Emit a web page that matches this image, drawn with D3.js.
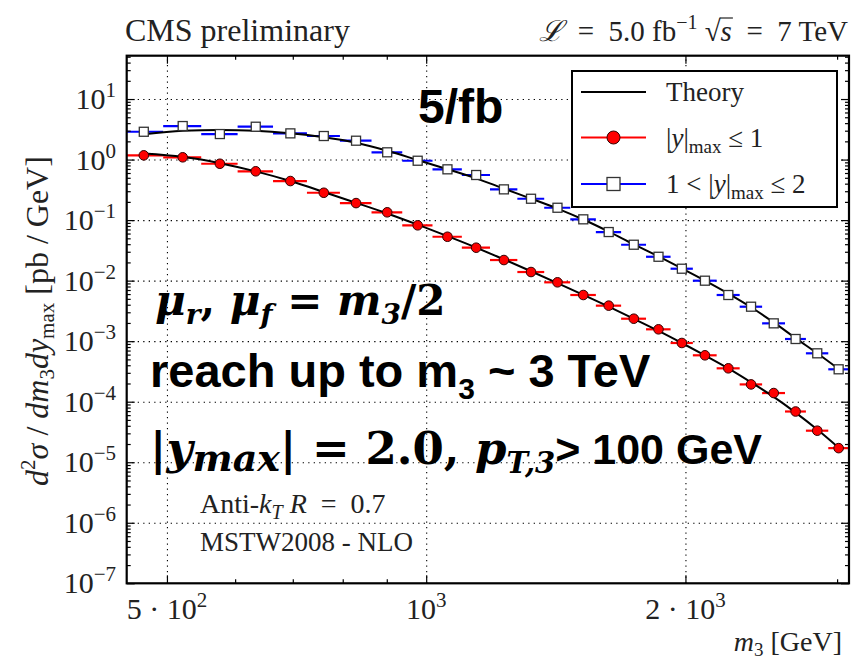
<!DOCTYPE html>
<html><head><meta charset="utf-8">
<script src="https://cdn.jsdelivr.net/npm/d3@7"></script>
<style>body{margin:0;background:#fff}</style>
</head><body><svg id="c" width="855" height="662"></svg>
<script>
// ---- data ----
const binEdges = [445, 495, 548, 604, 664, 727, 794, 864, 938, 1017, 1100, 1186, 1276, 1371, 1470, 1574, 1684, 1800, 1922, 2040, 2174, 2312, 2455, 2610, 2760, 2930, 3095];
const dataCentral = [1.175, 1.09, 0.853, 0.64, 0.442, 0.283, 0.191, 0.1345, 0.082, 0.0531, 0.035, 0.0219, 0.01388, 0.00938, 0.00579, 0.00386, 0.00235, 0.00157, 9.33e-4, 5.84e-4, 3.56e-4, 1.93e-4, 1.39e-4, 6.89e-5, 3.32e-5, 1.71e-5];
const dataForward = [2.88, 3.58, 2.64, 3.49, 2.71, 2.45, 2.05, 1.318, 0.957, 0.69, 0.556, 0.322, 0.2254, 0.16, 0.103, 0.0635, 0.0392, 0.0248, 0.01574, 0.00998, 0.00579, 0.00371, 0.00197, 0.001086, 6.3e-4, 3.43e-4];
const theoryCentral = [1.259, 1.109, 0.871, 0.638, 0.4416, 0.2917, 0.1928, 0.1288, 0.0841, 0.0543, 0.0351, 0.0224, 0.01429, 0.00912, 0.00582, 0.00372, 0.002344, 0.001479, 9.33e-4, 5.82e-4, 3.55e-4, 2.09e-4, 1.202e-4, 6.61e-5, 3.47e-5, 1.74e-5];
const theoryForward = [2.61, 2.99, 3.08, 2.99, 2.71, 2.33, 1.897, 1.40, 0.982, 0.692, 0.49, 0.331, 0.2265, 0.1549, 0.1023, 0.0646, 0.0398, 0.0251, 0.01585, 0.01, 0.0061, 0.00363, 0.00204, 0.001122, 6.31e-4, 3.47e-4];
const xMajorTicks = [500, 1000, 2000];
const xMajorLabels = [["5 · 10", "2"], ["10", "3"], ["2 · 10", "3"]];
const xMinorTicks = [600, 700, 800, 900, 3000];
const yExponents = [1, 0, -1, -2, -3, -4, -5, -6, -7];

// ---- layout ----
const L = 126.7, R = 849, T = 55.7, B = 583.3;
const svg = d3.select('#c');
const serif = "'Liberation Serif', 'Times New Roman', serif";
const mathSerif = "'DejaVu Serif', 'Liberation Serif', serif";
const sans = "'Liberation Sans', Arial, sans-serif";
const E = '\u2002';

const x = d3.scaleLog().domain([449, 3097]).range([L, R]);
const y = d3.scaleLog().domain([Math.pow(10, 1.716), 1e-7]).range([T, B]);

const yMajor = yExponents.map(e => Math.pow(10, e));
const yMinor = [];
for (let e = -7; e <= 1; e++) for (let k = 2; k <= 9; k++) { const v = k * Math.pow(10, e); if (v < y.domain()[0]) yMinor.push(v); }

// grid
const dash = "1.3,4.2";
svg.append('g').attr('transform', `translate(${L},0)`)
  .call(d3.axisLeft(y).tickValues(yMajor.filter(v => v > 1e-7 && v < 50)).tickSize(-(R - L)).tickFormat(''))
  .call(g => g.select('.domain').remove())
  .call(g => g.selectAll('line').attr('stroke', '#000').attr('stroke-width', 1.1).attr('stroke-dasharray', dash));
svg.append('g').attr('transform', `translate(0,${B})`)
  .call(d3.axisBottom(x).tickValues(xMajorTicks).tickSize(-(B - T)).tickFormat(''))
  .call(g => g.select('.domain').remove())
  .call(g => g.selectAll('line').attr('stroke', '#000').attr('stroke-width', 1.1).attr('stroke-dasharray', dash));

// ---- data marks ----
const plot = svg.append('g');
svg.append('clipPath').attr('id', 'clip').append('rect').attr('x', L).attr('y', T).attr('width', R - L).attr('height', B - T);
plot.attr('clip-path', 'url(#clip)');
const centers = d3.range(binEdges.length - 1).map(i => (binEdges[i] + binEdges[i + 1]) / 2);

function bars(vals, color) {
  plot.append('g').selectAll('line').data(vals).join('line')
    .attr('x1', (d, i) => x(binEdges[i])).attr('x2', (d, i) => x(binEdges[i + 1]))
    .attr('y1', d => y(d)).attr('y2', d => y(d))
    .attr('stroke', color).attr('stroke-width', 2.2);
}
bars(dataForward, '#0000ff');
bars(dataCentral, '#ff0000');

const line = d3.line().x((d, i) => x(centers[i])).y(d => y(d)).curve(d3.curveMonotoneX);
plot.append('path').datum(theoryForward).attr('d', line).attr('fill', 'none').attr('stroke', '#000').attr('stroke-width', 2);
plot.append('path').datum(theoryCentral).attr('d', line).attr('fill', 'none').attr('stroke', '#000').attr('stroke-width', 2);

plot.append('g').selectAll('rect').data(dataForward).join('rect')
  .attr('x', (d, i) => x(centers[i]) - 4.5).attr('y', d => y(d) - 4.5)
  .attr('width', 9).attr('height', 9).attr('fill', '#fff').attr('stroke', '#333').attr('stroke-width', 1.3);
plot.append('g').selectAll('circle').data(dataCentral).join('circle')
  .attr('cx', (d, i) => x(centers[i])).attr('cy', d => y(d)).attr('r', 4.8)
  .attr('fill', '#ff0000').attr('stroke', '#300').attr('stroke-width', 1);

// ---- axes (ticks inward) ----
function tickAxis(axis, tr, size) {
  svg.append('g').attr('transform', tr).call(axis.tickSize(size).tickFormat(''))
    .call(g => g.select('.domain').remove())
    .call(g => g.selectAll('line').attr('stroke', '#000').attr('stroke-width', 1.2));
}
tickAxis(d3.axisLeft(y).tickValues(yMajor), `translate(${L},0)`, -8);
tickAxis(d3.axisLeft(y).tickValues(yMinor), `translate(${L},0)`, -4);
tickAxis(d3.axisRight(y).tickValues(yMajor), `translate(${R},0)`, -8);
tickAxis(d3.axisRight(y).tickValues(yMinor), `translate(${R},0)`, -4);
tickAxis(d3.axisBottom(x).tickValues(xMajorTicks), `translate(0,${B})`, -8);
tickAxis(d3.axisBottom(x).tickValues(xMinorTicks), `translate(0,${B})`, -4);
tickAxis(d3.axisTop(x).tickValues(xMajorTicks), `translate(0,${T})`, -8);
tickAxis(d3.axisTop(x).tickValues(xMinorTicks), `translate(0,${T})`, -4);
svg.append('rect').attr('x', L).attr('y', T).attr('width', R - L).attr('height', B - T)
  .attr('fill', 'none').attr('stroke', '#000').attr('stroke-width', 2.2);

// tick labels
const yl = svg.append('g').attr('font-family', serif).attr('font-size', 30).attr('fill', '#222');
yExponents.forEach(e => {
  const t = yl.append('text').attr('x', 116).attr('y', y(Math.pow(10, e)) + 10).attr('text-anchor', 'end');
  t.append('tspan').text('10');
  t.append('tspan').attr('dy', -12).attr('font-size', 21).text(e < 0 ? '−' + (-e) : String(e));
});
const xl = svg.append('g').attr('font-family', serif).attr('font-size', 30).attr('fill', '#222');
xMajorTicks.forEach((v, i) => {
  const t = xl.append('text').attr('x', x(v)).attr('y', 619).attr('text-anchor', 'middle');
  t.append('tspan').text(xMajorLabels[i][0]);
  t.append('tspan').attr('dy', -12).attr('font-size', 21).text(xMajorLabels[i][1]);
});

// axis titles
const xt = svg.append('text').attr('x', 842).attr('y', 651).attr('text-anchor', 'end')
  .attr('font-family', serif).attr('font-size', 28).attr('fill', '#222');
xt.append('tspan').attr('font-style', 'italic').text('m');
xt.append('tspan').attr('font-size', 19).attr('dy', 5).text('3');
xt.append('tspan').attr('dy', -5).text(' [GeV]');

const yt = svg.append('text').attr('transform', 'translate(48,321) rotate(-90)').attr('text-anchor', 'middle')
  .attr('font-family', serif).attr('font-size', 32).attr('fill', '#222');
[['d', 1], ['2', 0, 21, -13], ['σ', 1, null, 13], [' / ', 0], ['dm', 1], ['3', 0, 21, 6], ['dy', 1, null, -6], ['max', 0, 21, 6], [' [pb / GeV]', 0, null, -6]]
  .forEach(p => {
    const s = yt.append('tspan').text(p[0]);
    if (p[1]) s.attr('font-style', 'italic');
    if (p[2]) s.attr('font-size', p[2]);
    if (p[3]) s.attr('dy', p[3]);
  });

// header
svg.append('text').attr('x', 125).attr('y', 41).attr('font-family', serif).attr('font-size', 32).attr('fill', '#222').text('CMS preliminary');
const hdr = svg.append('text').attr('x', 848).attr('y', 41).attr('text-anchor', 'end')
  .attr('font-family', serif).attr('font-size', 29).attr('fill', '#222');
hdr.append('tspan').attr('font-style', 'italic').text('ℒ');
hdr.append('tspan').text(E + '=' + E + '5.0 fb');
hdr.append('tspan').attr('dy', -12).attr('font-size', 20).text('−1');
hdr.append('tspan').attr('dy', 12).text(' √');
hdr.append('tspan').attr('font-style', 'italic').text('s');
hdr.append('tspan').text(E + '=' + E + '7 TeV');
{
  const full = hdr.text();
  const idx = full.indexOf('√') + 1;
  const ext = hdr.node().getExtentOfChar(idx);
  const ext0 = hdr.node().getExtentOfChar(idx - 1);
  svg.append('line').attr('x1', ext0.x + ext0.width - 1).attr('x2', ext.x + ext.width + 1)
    .attr('y1', ext0.y + 3).attr('y2', ext0.y + 3).attr('stroke', '#222').attr('stroke-width', 1.2);
}

// legend
const lg = svg.append('g');
lg.append('rect').attr('x', 572).attr('y', 71).attr('width', 265).attr('height', 136)
  .attr('fill', '#fff').attr('stroke', '#000').attr('stroke-width', 2);
const legendRows = [92, 137.5, 184];
lg.append('line').attr('x1', 581).attr('x2', 646).attr('y1', legendRows[0]).attr('y2', legendRows[0]).attr('stroke', '#000').attr('stroke-width', 2);
lg.append('line').attr('x1', 581).attr('x2', 646).attr('y1', legendRows[1]).attr('y2', legendRows[1]).attr('stroke', '#ff0000').attr('stroke-width', 2.2);
lg.append('circle').attr('cx', 613.5).attr('cy', legendRows[1]).attr('r', 6.5).attr('fill', '#ff0000').attr('stroke', '#300').attr('stroke-width', 1);
lg.append('line').attr('x1', 581).attr('x2', 646).attr('y1', legendRows[2]).attr('y2', legendRows[2]).attr('stroke', '#0000ff').attr('stroke-width', 2.2);
lg.append('rect').attr('x', 607).attr('y', legendRows[2] - 6.5).attr('width', 13).attr('height', 13).attr('fill', '#fff').attr('stroke', '#333').attr('stroke-width', 1.3);
const lt = lg.append('g').attr('font-family', serif).attr('font-size', 27).attr('fill', '#222');
lt.append('text').attr('x', 666).attr('y', legendRows[0] + 9).text('Theory');
function ymaxLabel(t, pre, post) {
  if (pre) t.append('tspan').text(pre);
  t.append('tspan').text('|');
  t.append('tspan').attr('font-style', 'italic').text('y');
  t.append('tspan').text('|');
  t.append('tspan').attr('font-size', 19).attr('dy', 6).text('max');
  t.append('tspan').attr('dy', -6).text(post);
}
ymaxLabel(lt.append('text').attr('x', 666).attr('y', legendRows[1] + 9), null, ' ≤ 1');
ymaxLabel(lt.append('text').attr('x', 666).attr('y', legendRows[2] + 9), '1 < ', ' ≤ 2');

// annotations
svg.append('text').attr('x', 418).attr('y', 123).attr('font-family', sans).attr('font-weight', 'bold')
  .attr('font-size', 48).attr('fill', '#000').text('5/fb');

function rich(t, parts) {
  parts.forEach(p => {
    const s = t.append('tspan').text(p[0]);
    if (p[1]) s.attr('font-style', 'italic');
    if (p[2]) s.attr('font-size', p[2]);
    if (p[3]) s.attr('dy', p[3]);
  });
}
const a1 = svg.append('text').attr('x', 155).attr('y', 315).attr('font-family', mathSerif).attr('font-weight', 'bold')
  .attr('font-size', 42).attr('fill', '#000');
rich(a1, [['μ', 1], ['r', 1, 28, 9], [',', 0, null, -9], [' μ', 1], ['f', 1, 28, 9], [' = ', 0, null, -9], ['m', 1], ['3', 1, 28, 9], ['/2', 0, null, -9]]);

const a2 = svg.append('text').attr('x', 150).attr('y', 387).attr('font-family', sans).attr('font-weight', 'bold')
  .attr('font-size', 47).attr('fill', '#000');
a2.append('tspan').text('reach up to m');
a2.append('tspan').attr('font-size', 30).attr('dy', 12).text('3');
a2.append('tspan').attr('dy', -12).text(' ~ 3 TeV');

const a3 = svg.append('text').attr('x', 150).attr('y', 464).attr('font-family', mathSerif).attr('font-weight', 'bold')
  .attr('font-size', 45).attr('fill', '#000');
rich(a3, [['|', 0], ['y', 1], ['max', 1, 38, 7], ['| = 2.0, ', 0, null, -7], ['p', 1], ['T,3', 1, 29, 9]]);
a3.append('tspan').attr('dy', -9).attr('font-family', sans).attr('font-size', 43).text('> 100 GeV');

const a4 = svg.append('text').attr('x', 200).attr('y', 513).attr('font-family', serif).attr('font-size', 28).attr('fill', '#222');
a4.append('tspan').text('Anti-');
a4.append('tspan').attr('font-style', 'italic').text('k');
a4.append('tspan').attr('font-style', 'italic').attr('font-size', 20).attr('dy', 6).text('T');
a4.append('tspan').attr('dy', -6).text(' ');
a4.append('tspan').attr('font-style', 'italic').text('R');
a4.append('tspan').text(E + '=' + E + '0.7');
svg.append('text').attr('x', 200).attr('y', 551).attr('font-family', serif).attr('font-size', 27).attr('fill', '#222').text('MSTW2008 - NLO');
</script></body></html>
